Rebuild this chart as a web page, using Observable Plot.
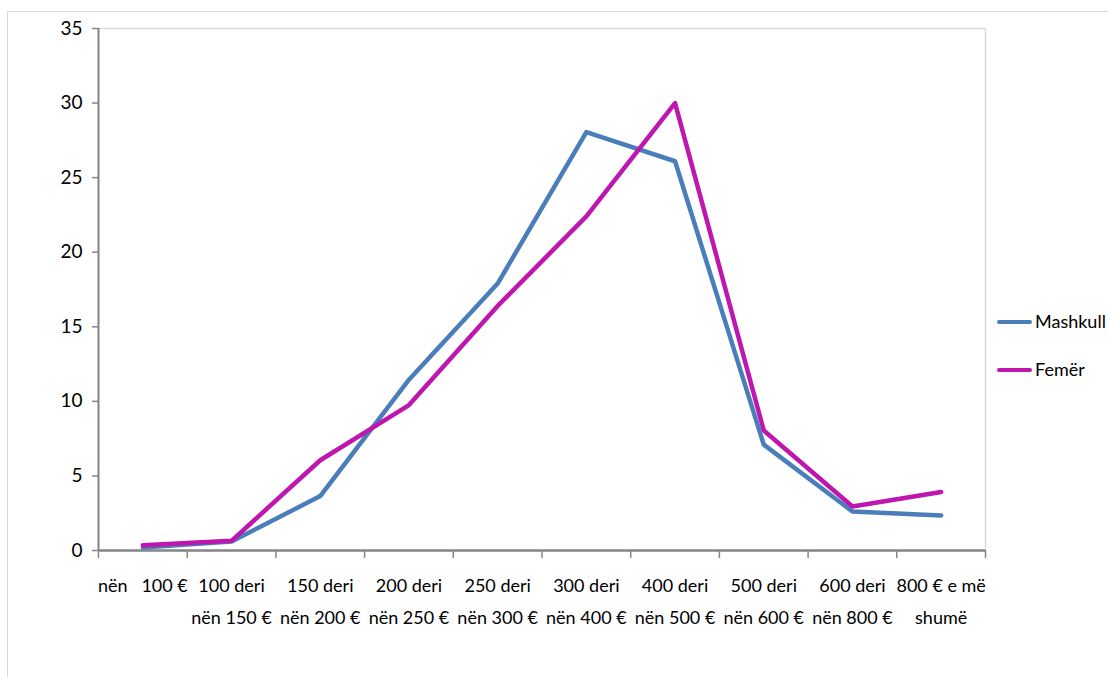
<!DOCTYPE html>
<html>
<head>
<meta charset="utf-8">
<script src="https://cdn.jsdelivr.net/npm/d3@7"></script>
<script src="https://cdn.jsdelivr.net/npm/@observablehq/plot@0.6"></script>
<style>
  html, body { margin: 0; padding: 0; background: #fff; overflow: hidden; }
  body { width: 1108px; height: 677px; position: relative; font-family: Lato, "Open Sans", sans-serif; }
  #outer { position: absolute; left: 7px; top: 11px; width: 1200px; height: 800px; border: 1px solid #d9d9d9; box-sizing: border-box; }
  #chart { position: absolute; left: 0; top: 0; }
  .leg { position: absolute; font-size: 18px; color: #000; line-height: 1; white-space: nowrap; }
  .sw { position: absolute; height: 4px; width: 35px; border-radius: 2px; }
</style>
</head>
<body>
<div id="outer"></div>
<div id="chart"></div>
<script>
const categories = [
  "nën\u00a0\u00a0\u00a0100 €",
  "100 deri\nnën 150 €",
  "150 deri\nnën 200 €",
  "200 deri\nnën 250 €",
  "250 deri\nnën 300 €",
  "300 deri\nnën 400 €",
  "400 deri\nnën 500 €",
  "500 deri\nnën 600 €",
  "600 deri\nnën 800 €",
  "800 € e më\nshumë"
];
const mashkull = [0.2, 0.6, 3.65, 11.45, 17.9, 28.05, 26.1, 7.1, 2.62, 2.35];
const femer = [0.35, 0.65, 6.05, 9.75, 16.4, 22.4, 30.0, 8.05, 2.95, 3.92];
const seriesNames = ["Mashkull", "Femër"];
const seriesColors = ["#4A7EBB", "#BE16AE"];
const yTicks = [0, 5, 10, 15, 20, 25, 30, 35];

const rows = [];
categories.forEach((c, i) => {
  rows.push({i, series: seriesNames[0], value: mashkull[i]});
  rows.push({i, series: seriesNames[1], value: femer[i]});
});
const boundaries = d3.range(categories.length + 1).map(k => k - 0.5);

const axisGray = "#868686";
const chart = Plot.plot({
  width: 1108,
  height: 677,
  marginLeft: 98,
  marginRight: 123,
  marginTop: 28,
  marginBottom: 127,
  style: {fontSize: "18px", fontFamily: "Lato, 'Open Sans', sans-serif", color: "#000", background: "transparent"},
  x: {type: "linear", domain: [-0.5, categories.length - 0.5], axis: null},
  y: {domain: [0, 35], axis: null},
  color: {domain: seriesNames, range: seriesColors},
  marks: [
    Plot.frame({stroke: "#d9d9d9", strokeWidth: 1.5}),
    Plot.ruleX([-0.5], {stroke: axisGray, strokeWidth: 2}),
    Plot.ruleY([0], {stroke: axisGray, strokeWidth: 2.5}),
    Plot.axisY({ticks: yTicks, tickSize: 6, tickPadding: 10, label: null, stroke: axisGray, strokeWidth: 1.5, fill: "#000", fontSize: 19}),
    Plot.axisX({ticks: boundaries, tickSize: 8, tickFormat: () => "", label: null, stroke: axisGray, strokeWidth: 1.5}),
    Plot.line(rows, {x: "i", y: "value", z: "series", stroke: "series", strokeWidth: 4.5, strokeLinejoin: "round", strokeLinecap: "round"}),
    Plot.text(categories, {x: (d, i) => i, y: 0, text: d => d, lineAnchor: "top", dy: 19, lineHeight: 1.76, fontSize: 18, fill: "#000"})
  ]
});
document.getElementById("chart").appendChild(chart);

// legend
const legendY = [322, 370];
seriesNames.forEach((name, k) => {
  const sw = document.createElement("div");
  sw.className = "sw";
  sw.style.left = "997px";
  sw.style.top = (legendY[k] - 2) + "px";
  sw.style.background = seriesColors[k];
  document.body.appendChild(sw);
  const t = document.createElement("div");
  t.className = "leg";
  t.textContent = name;
  t.style.left = "1035px";
  t.style.top = (legendY[k] - 10) + "px";
  document.body.appendChild(t);
});
</script>
</body>
</html>
